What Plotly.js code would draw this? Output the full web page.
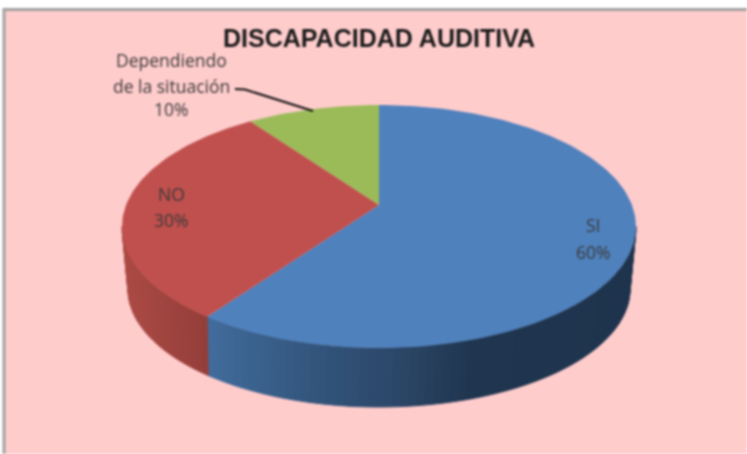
<!DOCTYPE html>
<html>
<head>
<meta charset="utf-8">
<script src="https://cdn.plot.ly/plotly-3.0.1.min.js"></script>
<style>
html,body{margin:0;padding:0;background:#fff;overflow:hidden}
#chart{width:747px;height:454px}
#chart .svg-container{filter:blur(0.8px)}
</style>
</head>
<body>
<div id="chart"></div>
<script>
// Data
const categories = ["SI", "NO", "Dependiendo de la situación"];
const values = [60, 30, 10];
const percentLabels = ["60%", "30%", "10%"];
const chartTitle = "DISCAPACIDAD AUDITIVA";

// Colours
const faceColors = ["#4F81BD", "#C0504D", "#9BBB59"];
const wallStops = [
  [[205, [66,108,156]], [300,[52,88,128]], [400,[43,70,103]], [470,[32,54,80]], [640,[30,51,76]]],
  [[120, [172,74,68]], [205,[148,62,58]]],
  [[0,[100,120,60]],[747,[100,120,60]]]
];

// Projection of the tilted disc on to the page
const top_ = {cx:379, cy:226.5, rx:257, ry:121.5};
const bot = {cx:379, cy:289, rx:251, ry:118};
const apex = {x:379, y:205};

function rayPoint(theta){
  const dx = top_.rx*Math.sin(theta), dy = -top_.ry*Math.cos(theta);
  const ox = apex.x-top_.cx, oy = apex.y-top_.cy;
  const a = (dx*dx)/(top_.rx*top_.rx)+(dy*dy)/(top_.ry*top_.ry);
  const b = 2*((ox*dx)/(top_.rx*top_.rx)+(oy*dy)/(top_.ry*top_.ry));
  const c = (ox*ox)/(top_.rx*top_.rx)+(oy*oy)/(top_.ry*top_.ry)-1;
  const t = (-b+Math.sqrt(b*b-4*a*c))/(2*a);
  return [apex.x+dx*t, apex.y+dy*t];
}
function param(p){ // ellipse parameter of a rim point, clockwise from top
  let a = Math.atan2((p[0]-top_.cx)/top_.rx, -(p[1]-top_.cy)/top_.ry);
  if(a<0) a += 2*Math.PI;
  return a;
}
function ell(e,phi){ return [e.cx+e.rx*Math.sin(phi), e.cy-e.ry*Math.cos(phi)]; }
function colorAt(stops,x){
  if(x<=stops[0][0]) return stops[0][1];
  for(let i=1;i<stops.length;i++){
    if(x<=stops[i][0]){
      const f=(x-stops[i-1][0])/(stops[i][0]-stops[i-1][0]);
      return stops[i-1][1].map((v,k)=>Math.round(v+(stops[i][1][k]-v)*f));
    }
  }
  return stops[stops.length-1][1];
}

const total = values.reduce((a,b)=>a+b,0);
let cum = 0;
const bounds = values.map(v=>{const s=cum; cum+=v; return [s/total*2*Math.PI, cum/total*2*Math.PI];});

const traces = [];

// Side walls: visible for the front half of the rim
const frontStart = Math.PI/2, frontEnd = 3*Math.PI/2;
const split = param(rayPoint(bounds[0][1]));
const lean = 0.016;
function botParam(phi){
  return phi<=split ? phi+lean*(phi-frontStart)/(split-frontStart)
                    : phi+lean*(frontEnd-phi)/(frontEnd-split);
}
values.forEach((v,i)=>{
  if(i===2) return;
  const p0 = Math.max(param(rayPoint(bounds[i][0])), frontStart);
  const p1 = Math.min(param(rayPoint(bounds[i][1])), frontEnd);
  if(p1<=p0) return;
  const n = i===0 ? 70 : 24;
  for(let k=0;k<n;k++){
    const a = p0+(p1-p0)*k/n, b = p0+(p1-p0)*(k+1)/n;
    const A=ell(top_,a),B=ell(top_,b),C=ell(bot,botParam(b)),D=ell(bot,botParam(a));
    const c = colorAt(wallStops[i],(A[0]+B[0])/2);
    const col = `rgb(${c[0]},${c[1]},${c[2]})`;
    traces.push({type:"scatter",mode:"lines",x:[A[0],B[0],C[0],D[0],A[0]],y:[A[1],B[1],C[1],D[1],A[1]],
      fill:"toself",fillcolor:col,line:{width:1,color:col},hoverinfo:"skip",showlegend:false});
  }
});

// Top faces
values.forEach((v,i)=>{
  const xs=[apex.x], ys=[apex.y];
  const steps=Math.max(8,Math.round(v*3));
  for(let k=0;k<=steps;k++){
    const p=rayPoint(bounds[i][0]+(bounds[i][1]-bounds[i][0])*k/steps);
    xs.push(p[0]); ys.push(p[1]);
  }
  xs.push(apex.x); ys.push(apex.y);
  traces.push({type:"scatter",mode:"lines",x:xs,y:ys,fill:"toself",fillcolor:faceColors[i],
    line:{width:0,color:faceColors[i]},name:categories[i],hoverinfo:"name",showlegend:false});
});

// Leader line of the third label
traces.push({type:"scatter",mode:"lines",x:[235,245,313],y:[89,89.5,111],
  line:{color:"#101010",width:2},hoverinfo:"skip",showlegend:false});

const labelFont = {family:"Open Sans, Liberation Sans, sans-serif", size:17.5, color:"#3a3a3a"};
function lab(x,y,text){return {x,y,text,xref:"x",yref:"y",showarrow:false,font:labelFont,xanchor:"center",yanchor:"middle"};}

const layout = {
  width:747,height:454,
  margin:{l:0,r:0,t:0,b:0},
  paper_bgcolor:"#FFFFFF",plot_bgcolor:"#FFFFFF",
  showlegend:false,
  xaxis:{range:[0,747],visible:false,fixedrange:true},
  yaxis:{range:[454,0],visible:false,fixedrange:true},
  shapes:[{type:"rect",xref:"x",yref:"y",x0:4,y0:9.5,x1:760,y1:470,fillcolor:"#FFCCCC",
    line:{color:"#A2A2A2",width:3},layer:"below"}],
  annotations:[
    {x:379,y:38,xref:"x",yref:"y",text:"<b>"+chartTitle+"</b>",showarrow:false,
     font:{family:"Liberation Sans, Arial, sans-serif",size:25,color:"#1a1a1a"},xanchor:"center",yanchor:"middle"},
    lab(171,60,"Dependiendo"),
    lab(171,86,"de la situación"),
    lab(171,109,percentLabels[2]),
    lab(171,194,categories[1]),
    lab(171,220,percentLabels[1]),
    lab(593,225,categories[0]),
    lab(593,252,percentLabels[0])
  ]
};
Plotly.newPlot("chart",traces,layout,{displayModeBar:false,staticPlot:true});
</script>
</body>
</html>
